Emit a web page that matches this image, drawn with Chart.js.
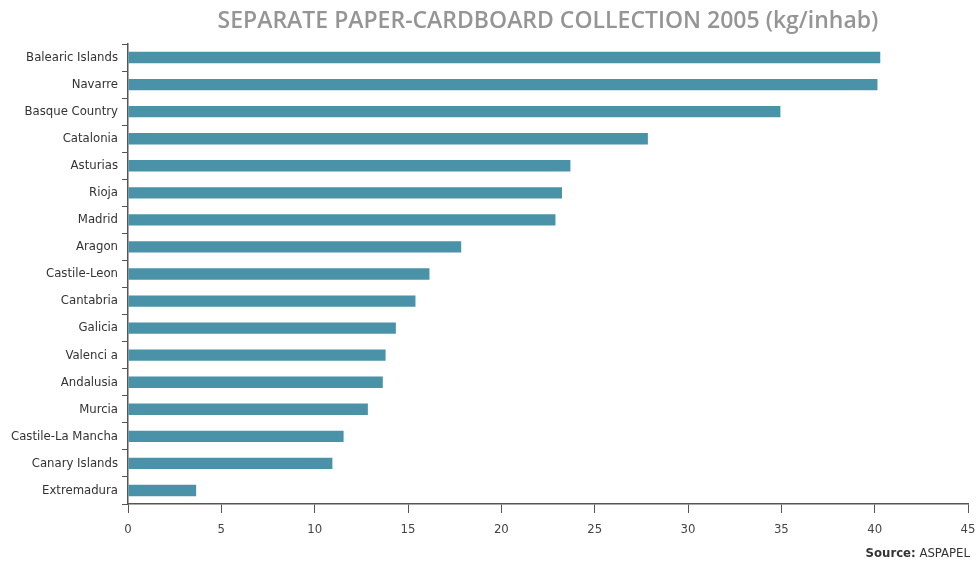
<!DOCTYPE html>
<html>
<head>
<meta charset="utf-8">
<script src="https://cdn.jsdelivr.net/npm/chart.js@4"></script>
<style>
  html, body { margin: 0; padding: 0; background: #ffffff; }
  #wrap { position: relative; width: 980px; height: 561px; }
</style>
</head>
<body>
<div id="wrap"><canvas id="chart" width="980" height="561"></canvas></div>
<script>
// Separate paper-cardboard collection by region, 2005 (kg per inhabitant)
const regions = [
  'Balearic Islands', 'Navarre', 'Basque Country', 'Catalonia', 'Asturias',
  'Rioja', 'Madrid', 'Aragon', 'Castile-Leon', 'Cantabria', 'Galicia',
  'Valenci a', 'Andalusia', 'Murcia', 'Castile-La Mancha', 'Canary Islands',
  'Extremadura'
];
const kgPerInhab = [
  40.3, 40.15, 34.95, 27.85, 23.7,
  23.25, 22.9, 17.85, 16.15, 15.4, 14.35,
  13.8, 13.65, 12.85, 11.55, 10.95,
  3.65
];
const xTicks = [0, 5, 10, 15, 20, 25, 30, 35, 40, 45];

const titleText = 'SEPARATE PAPER-CARDBOARD COLLECTION 2005 (kg/inhab)';
const sourceLabel = 'Source:';
const sourceName = ' ASPAPEL';

const FONT = '"Liberation Sans Narrow", "DejaVu Sans Condensed", Roboto, sans-serif';
const TITLE_FONT = '"Open Sans", Roboto, sans-serif';
const AXIS = '#555555';

// Footer note in the lower right corner
const sourcePlugin = {
  id: 'sourceNote',
  afterDraw(chart) {
    const ctx = chart.ctx;
    ctx.save();
    ctx.textBaseline = 'alphabetic';
    ctx.textAlign = 'left';
    ctx.fillStyle = '#333333';
    ctx.font = '13px ' + FONT;
    const nameW = ctx.measureText(sourceName).width;
    ctx.font = 'bold 13px ' + FONT;
    const labelW = ctx.measureText(sourceLabel).width;
    const right = 970;
    const y = 557;
    ctx.fillText(sourceLabel, right - nameW - labelW, y);
    ctx.font = '13px ' + FONT;
    ctx.fillText(sourceName, right - nameW, y);
    ctx.restore();
  }
};

new Chart(document.getElementById('chart'), {
  type: 'bar',
  data: {
    labels: regions,
    datasets: [{
      data: kgPerInhab,
      backgroundColor: '#4a92a7',
      borderWidth: 0,
      categoryPercentage: 1.0,
      barPercentage: 0.42
    }]
  },
  plugins: [sourcePlugin],
  options: {
    indexAxis: 'y',
    responsive: false,
    animation: false,
    layout: { padding: { top: 0, right: 12, bottom: 0, left: 0 } },
    plugins: {
      legend: { display: false },
      tooltip: { enabled: false },
      title: {
        display: true,
        text: titleText,
        fullSize: false,
        color: '#959595',
        font: { family: TITLE_FONT, size: 23, weight: '600', lineHeight: 1.2 },
        padding: { top: 8, bottom: 8.4 }
      }
    },
    scales: {
      x: {
        min: 0,
        max: 45,
        afterBuildTicks(scale) {
          scale.ticks = xTicks.map(v => ({ value: v }));
        },
        afterFit(scale) {
          scale.height = 57;
          scale.paddingLeft = 0;
          scale.paddingRight = 0;
        },
        grid: {
          drawOnChartArea: false,
          drawTicks: true,
          tickLength: 9,
          color: AXIS,
          lineWidth: 1
        },
        border: { display: true, color: AXIS, width: 1.5 },
        ticks: {
          color: '#444444',
          font: { family: FONT, size: 13 },
          padding: 9,
          maxRotation: 0
        }
      },
      y: {
        afterFit(scale) { scale.width = 128; },
        grid: {
          offset: true,
          drawOnChartArea: false,
          drawTicks: true,
          tickLength: 6,
          color: AXIS,
          lineWidth: 1
        },
        border: { display: true, color: AXIS, width: 1.5 },
        ticks: {
          color: '#333333',
          font: { family: FONT, size: 13 },
          padding: 4,
          autoSkip: false
        }
      }
    }
  }
});
</script>
</body>
</html>
